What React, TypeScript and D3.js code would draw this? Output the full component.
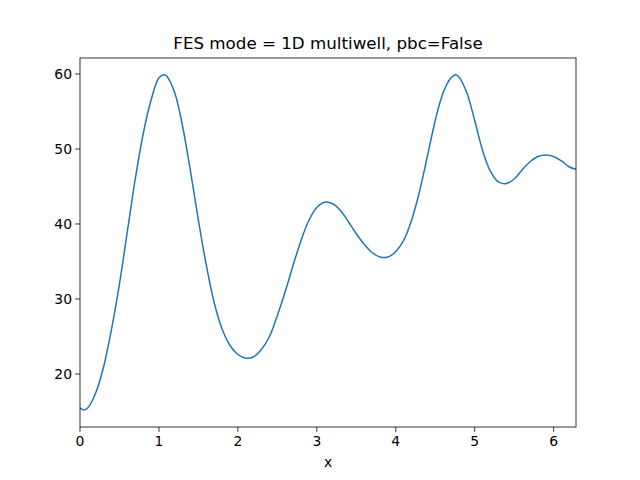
import React from "react";
import * as d3 from "d3";

const xs = [0,0.05,0.1,0.2,0.3,0.4,0.5,0.6,0.7,0.8,0.9,1.0,1.07,1.1,1.2,1.3,1.4,1.5,1.6,1.7,1.8,1.9,2.0,2.1,2.2,2.3,2.4,2.5,2.6,2.7,2.8,2.9,3.0,3.1,3.2,3.3,3.4,3.5,3.6,3.7,3.8,3.9,4.0,4.1,4.2,4.3,4.4,4.5,4.6,4.7,4.76,4.8,4.9,5.0,5.1,5.2,5.3,5.4,5.5,5.6,5.7,5.8,5.9,6.0,6.1,6.2,6.283];
const ys = [15.5,15.2,15.5,17.5,21,26,32,39,46,52,56.5,59.5,59.9,59.7,57.5,53,47,40.5,34.5,29.5,26,23.8,22.6,22.1,22.3,23.3,25,27.8,31,34.5,37.8,40.5,42.2,42.9,42.7,41.8,40.3,38.7,37.3,36.2,35.6,35.6,36.3,37.8,40.5,44.3,49,53.8,57.5,59.5,59.9,59.6,57.5,53.8,49.8,47,45.6,45.4,46,47.2,48.3,49,49.2,49,48.4,47.6,47.3];
const xTicks = [0,1,2,3,4,5,6];
const yTicks = [20,30,40,50,60];

export default function App() {
  const L = 80, R = 576, T = 58, B = 427;
  const x = d3.scaleLinear().domain([0, 6.283]).range([L, R]);
  const y = d3.scaleLinear().domain([12.93, 62.13]).range([B, T]);
  const line = d3.line<number>().x((_, i) => x(xs[i])).y(d => y(d)).curve(d3.curveCatmullRom);
  const font = "DejaVu Sans";
  return (
    <svg width={640} height={480} style={{ position: "absolute", left: 0, top: 0 }} fontFamily={font}>
      <rect width={640} height={480} fill="white" />
      <defs><clipPath id="c"><rect x={L} y={T} width={R - L} height={B - T} /></clipPath></defs>
      <path d={line(ys) || ""} fill="none" stroke="#1f77b4" strokeWidth={1.5} clipPath="url(#c)" />
      <rect x={L} y={T} width={R - L} height={B - T} fill="none" stroke="black" strokeWidth={0.8} />
      {xTicks.map(t => (
        <g key={t}>
          <line x1={x(t)} x2={x(t)} y1={B} y2={B + 4.9} stroke="black" strokeWidth={0.8} />
          <text x={x(t)} y={B + 19} fontSize={13.9} textAnchor="middle">{t}</text>
        </g>
      ))}
      {yTicks.map(t => (
        <g key={t}>
          <line x1={L - 4.9} x2={L} y1={y(t)} y2={y(t)} stroke="black" strokeWidth={0.8} />
          <text x={L - 8} y={y(t) + 5} fontSize={13.9} textAnchor="end">{t}</text>
        </g>
      ))}
      <text x={(L + R) / 2} y={467} fontSize={13.9} textAnchor="middle">x</text>
      <text x={(L + R) / 2} y={49} fontSize={16.7} textAnchor="middle">FES mode = 1D multiwell, pbc=False</text>
    </svg>
  );
}
